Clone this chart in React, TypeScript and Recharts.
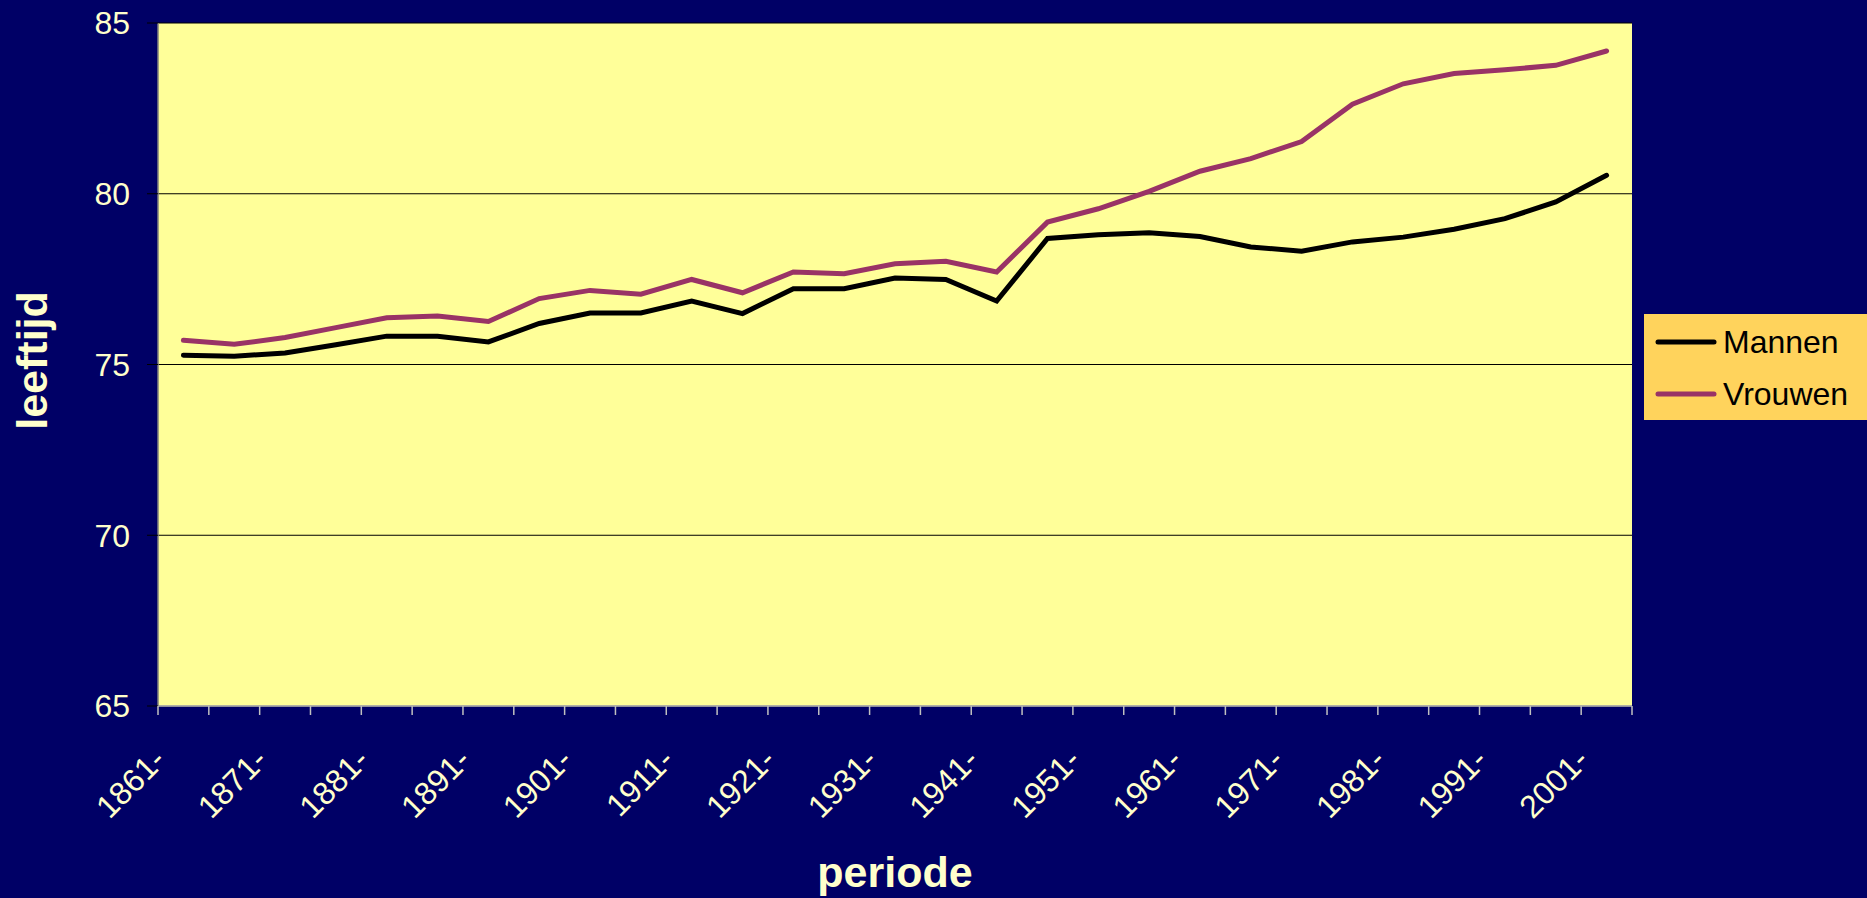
import React from 'react';
import { CartesianGrid, Label, Legend, Line, LineChart, XAxis, YAxis } from 'recharts';

// levensverwachting per periode (5-jaarsperioden)
const periods = [
  '1861-', '1866-', '1871-', '1876-', '1881-', '1886-', '1891-', '1896-', '1901-', '1906-',
  '1911-', '1916-', '1921-', '1926-', '1931-', '1936-', '1941-', '1946-', '1951-', '1956-',
  '1961-', '1966-', '1971-', '1976-', '1981-', '1986-', '1991-', '1996-', '2001-',
];
const mannen = [
  75.27, 75.24, 75.34, 75.58, 75.83, 75.83, 75.66, 76.2, 76.51, 76.51,
  76.86, 76.49, 77.22, 77.22, 77.53, 77.49, 76.86, 78.69, 78.8, 78.86,
  78.75, 78.44, 78.32, 78.59, 78.73, 78.96, 79.27, 79.76, 80.54,
];
const vrouwen = [
  75.71, 75.59, 75.79, 76.08, 76.37, 76.42, 76.26, 76.93, 77.17, 77.06,
  77.49, 77.1, 77.71, 77.66, 77.95, 78.02, 77.71, 79.17, 79.56, 80.07,
  80.66, 81.03, 81.53, 82.62, 83.22, 83.52, 83.63, 83.76, 84.18,
];
const yTicks = [65, 70, 75, 80, 85];

const series = [
  { key: 'mannen', name: 'Mannen', color: '#000000' },
  { key: 'vrouwen', name: 'Vrouwen', color: '#993366' },
];

// x as number: category i sits at i + 0.5, boundaries at integers
const data = periods.map((p, i) => ({ x: i + 0.5, period: p, mannen: mannen[i], vrouwen: vrouwen[i] }));
const xTicks: number[] = [];
for (let i = 0; i <= periods.length; i++) {
  xTicks.push(i);
  if (i < periods.length && i % 2 === 0) xTicks.push(i + 0.5);
}

const FONT = '"Liberation Sans", Arial, sans-serif';
const TEXT = '#FFFFCC';

function PeriodTick(props: any) {
  const { x, y, payload } = props;
  const v = payload.value;
  if (Number.isInteger(v)) {
    return <line x1={x} y1={y} x2={x} y2={y + 9} stroke="#C0C0C0" strokeWidth={1.5} />;
  }
  const tx = x - 16;
  const ty = y + 56;
  return (
    <text
      x={tx}
      y={ty}
      transform={`rotate(-45 ${tx} ${ty})`}
      textAnchor="end"
      fill={TEXT}
      fontSize={32}
      fontFamily={FONT}
    >
      {periods[Math.floor(v)]}
    </text>
  );
}

export default function App() {
  return (
    <div style={{ position: 'absolute', left: 0, top: 0, width: 1867, height: 898, background: '#000066' }}>
      <LineChart width={1867} height={898} data={data} margin={{ top: 23, right: 235, bottom: 0, left: 0 }}>
        <CartesianGrid vertical={false} stroke="#000" fill="#FFFF99" fillOpacity={1} />
        <XAxis
          type="number"
          dataKey="x"
          domain={[0, periods.length]}
          ticks={xTicks}
          interval={0}
          height={192}
          tickSize={0}
          tickMargin={0}
          tickLine={false}
          axisLine={{ stroke: '#C0C0C0', strokeWidth: 1.5 }}
          tick={<PeriodTick />}
        >
          <Label
            content={({ viewBox }: any) => (
              <text
                x={viewBox.x + viewBox.width / 2}
                y={viewBox.y + 181}
                textAnchor="middle"
                fill={TEXT}
                fontSize={43}
                fontWeight="bold"
                fontFamily={FONT}
              >
                periode
              </text>
            )}
          />
        </XAxis>
        <YAxis
          domain={[65, 85]}
          ticks={yTicks}
          interval={0}
          width={158}
          tickSize={11}
          tickMargin={17}
          tickLine={{ stroke: '#000' }}
          axisLine={{ stroke: '#808080', strokeWidth: 1.5 }}
          tick={{ fill: TEXT, fontSize: 32, fontFamily: FONT }}
        >
          <Label
            content={({ viewBox }: any) => {
              const lx = viewBox.x + 47;
              const ly = viewBox.y + viewBox.height / 2 - 4;
              return (
                <text
                  x={lx}
                  y={ly}
                  transform={`rotate(-90 ${lx} ${ly})`}
                  textAnchor="middle"
                  fill={TEXT}
                  fontSize={43}
                  fontWeight="bold"
                  fontFamily={FONT}
                >
                  leeftijd
                </text>
              );
            }}
          />
        </YAxis>
        <YAxis
          yAxisId="right"
          orientation="right"
          domain={[65, 85]}
          width={0}
          tick={false}
          tickLine={false}
          axisLine={{ stroke: '#C0C0C0', strokeWidth: 1.5 }}
        />
        <Legend
          layout="horizontal"
          verticalAlign="middle"
          align="center"
          wrapperStyle={{ position: 'absolute', left: 1644, top: 314, width: 223, height: 106 }}
          content={() => (
            <div
              style={{
                width: 223,
                height: 106,
                background: '#FFD35C',
                boxSizing: 'border-box',
                padding: '2px 0 0 11px',
                fontFamily: FONT,
              }}
            >
              {series.map((s) => (
                <div key={s.key} style={{ display: 'flex', alignItems: 'center', height: 52 }}>
                  <svg width={62} height={10}>
                    <line x1={3} y1={5} x2={59} y2={5} stroke={s.color} strokeWidth={5} strokeLinecap="round" />
                  </svg>
                  <span style={{ marginLeft: 6, fontSize: 32, color: '#000', lineHeight: '52px' }}>{s.name}</span>
                </div>
              ))}
            </div>
          )}
        />
        {series.map((s) => (
          <Line
            key={s.key}
            type="linear"
            dataKey={s.key}
            name={s.name}
            stroke={s.color}
            strokeWidth={5}
            strokeLinecap="round"
            dot={false}
            activeDot={false}
            isAnimationActive={false}
          />
        ))}
      </LineChart>
    </div>
  );
}
